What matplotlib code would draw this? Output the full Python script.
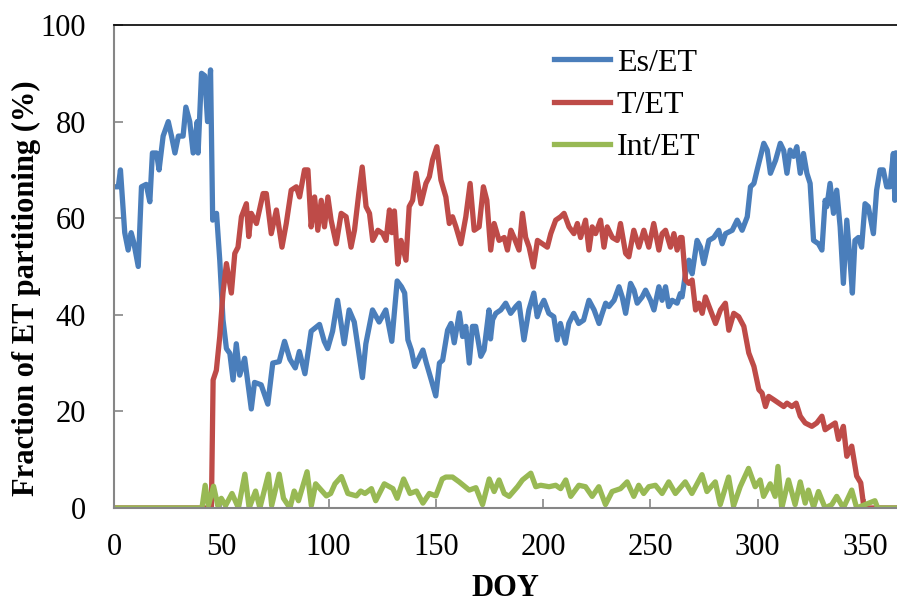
import matplotlib
matplotlib.use('Agg')
import matplotlib.pyplot as plt

plt.rcParams['font.family'] = ['Liberation Serif', 'DejaVu Serif']

# Es/ET (%), (DOY, value)
es_doy = [0, 2, 3, 5, 6.6, 8, 9.2, 11.3, 12.8, 15, 16.7, 17.9, 19.8, 21, 22.9, 25.3, 26.8, 28.4, 30, 32.2,
          33.5, 35.3, 36.9, 38.8, 39.2, 40.8, 42.3, 43.6, 45, 46, 47.8, 49.3, 50.8, 52.4, 54, 55.5, 57, 58.6,
          60.9, 64, 65.5, 68.6, 71.7, 74, 77, 79.5, 82, 84.5, 86.4, 89, 91.9, 95.8, 98, 99.6, 101.9, 104.2,
          107.3, 109.6, 112, 115.8, 117.4, 120.5, 123.6, 126.7, 129.5, 132, 134, 135.5, 137, 138.6, 140.2,
          141.7, 144, 145.6, 147.9, 150, 151.7, 153.2, 155.5, 157.1, 158.6, 161, 162.5, 164, 165.6, 167.1,
          168.6, 171, 172.5, 174.8, 175.5, 176.5, 178, 180.3, 182.6, 184.9, 187.3, 188.8, 191.1, 193.4, 195.7,
          197.3, 198.9, 200.4, 202.7, 205, 206.6, 208.1, 210.4, 212, 214.3, 216.6, 218.9, 221.4, 223.8, 226.1,
          227.6, 229.2, 230.7, 233.1, 235.4, 236.9, 238.5, 240.8, 242.4, 243.9, 246.2, 247.8, 250.1, 251.7,
          254, 255.5, 257.1, 258.6, 260.2, 262.5, 264, 264.8, 266.4, 268, 269.5, 271.8, 273.4, 274.9, 277.3,
          279.6, 281.9, 283.5, 285.1, 288.2, 290.5, 292.8, 295.2, 296.7, 298.3, 299.8, 301.4, 302.9, 304.5,
          306, 308.4, 310.6, 312.2, 313.7, 315.2, 316.8, 318.3, 319.9, 321.4, 323, 324.5, 326.1, 328.4, 330,
          331.5, 332.3, 333.8, 335.4, 336.9, 338.5, 340, 341.6, 343.1, 344.2, 345.4, 347, 348.5, 350.1, 351.6,
          354, 355.5, 357.1, 358.6, 360.2, 361.7, 363.3, 364, 365]
es_et = [66.5, 66.5, 70, 57, 53.4, 57, 55, 50, 66.5, 67, 63.4, 73.5, 73.5, 70, 77, 80, 77, 73.5, 77, 77,
         83, 80, 73.5, 80, 73.5, 90, 89.5, 80, 90.7, 59.6, 61, 51.3, 39, 33, 32, 26.5, 34, 27.5,
         31, 20.5, 26, 25.5, 21.5, 30, 30.3, 34.5, 30.8, 29, 32.4, 27.8, 36.6, 38, 34.5, 33, 36.6, 43,
         34, 41, 38.5, 27, 34, 41, 38.5, 41, 34.5, 47, 45.8, 44.5, 34.8, 32.7, 29.3,
         30.6, 32.7, 30, 26.5, 23.2, 30, 30.6, 36.8, 38.2, 34.2, 40.4, 35.5, 37.6, 30, 37.6,
         37.6, 31.4, 32.7, 41, 35, 39, 40.3, 41, 42.4, 40.3, 41.7, 42.4, 34.8, 41, 44.5,
         39.6, 41.7, 43, 40.3, 39.6, 34.8, 38.2, 34.1, 38.2, 40.3, 38.2, 38.9, 43, 41, 38.2,
         40.3, 42.4, 41.7, 43, 45.8, 43.7, 40.3, 46.5, 45.1, 42.4, 43.7, 45.1, 43, 41,
         45.8, 43, 45.8, 41.7, 43, 42.4, 44.4, 43.7, 48.5, 51.3, 48.5, 55.4, 54, 50.6, 55.4,
         56, 57.5, 54.7, 56.8, 57.5, 59.6, 57.5, 60.3, 66.5, 67.2, 70, 72.8, 75.5, 74.1,
         69.3, 72, 75.5, 74, 69.3, 74.1, 72.8, 74.8, 69.3, 73.4, 69.3, 67.2, 55.4, 54.7, 53.4,
         63.7, 62.4, 67.2, 61, 65.8, 58.2, 46.5, 59.6, 51.3, 44.5, 55.4, 56, 54, 63, 62.4,
         56.8, 65.8, 70, 70, 66.5, 66.5, 73.4, 63.7, 73.5]

# T/ET (%)
t_doy = [0, 45.4, 46.2, 47.7, 49.3, 50.8, 52.4, 54.7, 56.3, 57.8, 59.4, 61.7, 62.8, 64, 66.4, 69.5, 71,
         73.3, 75.7, 78.3, 80.3, 82.6, 85, 86.5, 88.8, 90.4, 91.9, 93.5, 95, 96.6, 98.1, 99.7, 101.2,
         103.6, 105.9, 108.2, 110.5, 112.1, 114.1, 115.7, 117.5, 119.1, 120.6, 123, 125.3, 126.8, 128.4,
         129.5, 130.7, 132.3, 133.8, 136.1, 137.6, 139.2, 140.8, 143.1, 145.4, 147, 148.5, 150.5, 152.4,
         154.7, 156.3, 157.8, 159.4, 161.7, 164, 166, 167.9, 170.2, 172.2, 173.8, 175.6, 177.2, 179.5,
         181.9, 183.4, 185, 186.5, 188.8, 190.4, 191.9, 193.5, 195.5, 197.4, 199.7, 202, 203.6, 205.9,
         208.2, 209.8, 212.1, 214.4, 216, 217.5, 219.8, 221.4, 222.9, 224.5, 226.8, 228.4, 229.9, 232.3,
         234.6, 236.1, 238.5, 240, 242.3, 244.7, 247, 249.3, 251.6, 254, 255.5, 257.1, 259.4, 261, 262.5,
         264, 264.8, 266.4, 268, 269.5, 271.1, 272.6, 274.2, 275.7, 278, 280.4, 282.7, 285, 286.6, 288.9,
         291.2, 293.6, 295.9, 298.3, 300.6, 302.1, 303.7, 305.2, 307.6, 309.9, 312.2, 313.7, 316, 318,
         319.9, 322.2, 325.3, 327.6, 330, 331.5, 333.8, 336.2, 337.7, 340, 341.6, 343.9, 346.2, 348.1,
         349.3, 350, 365]
t_et = [0, 0, 26.5, 28.5, 35.5, 44.5, 50.6, 44.5, 52.7, 54, 60.3, 63, 56.2, 61, 58.9, 65.1, 65.1,
        56.8, 61.7, 54, 58.9, 65.8, 66.5, 64.4, 70, 70, 58.2, 64.4, 57.5, 63.7, 58.2, 64.4, 59.6,
        54.7, 61, 60.3, 54, 57.5, 65.1, 70.6, 62.4, 61, 55.4, 57.5, 56.8, 55.4, 61.7,
        57, 61.5, 50.5, 55.4, 51.3, 62.4, 63.7, 69.3, 63, 67.2, 68.6, 72.1, 74.8, 67.9,
        64.4, 58.9, 60.3, 58.2, 54.7, 60.3, 67.2, 57.5, 58.2, 66.5, 63.7, 53.4, 58.9, 55.4,
        56, 53.4, 57.5, 56, 53.4, 61, 56, 54, 49.9, 55.4, 54.7, 54, 56.8, 59.6,
        60.3, 61, 58.2, 56.8, 58.9, 56, 59.6, 53.4, 58.2, 56.8, 59.6, 54, 58.2, 56,
        55.4, 58.9, 52.7, 52, 57.5, 54, 57.5, 54, 58.9, 53.4, 56.8, 57.5, 54, 56.8, 53.4,
        56, 56, 47.2, 46.5, 47.2, 41, 42.4, 40.3, 43.7, 41, 38.2, 41, 42.4, 36.8, 40.3,
        39.6, 37.6, 32.1, 29.3, 24.5, 23.8, 21, 23.1, 22.4, 21.7, 21, 21.7, 21, 21.7,
        19, 17.6, 16.9, 17.6, 19, 16.2, 16.9, 17.6, 14.2, 16.9, 10.7, 12.8, 6.6, 5.2,
        1, 0, 0]

# Int/ET (%)
int_doy = [0, 41, 42.5, 44, 46.4, 48.5, 50, 52, 55, 58, 61, 63, 66, 68, 72, 73.5, 77, 79, 82, 84, 86, 90,
           92, 94, 96, 99, 101, 103, 106, 109, 113, 115, 117, 120, 122, 126, 130, 132, 135, 138, 141, 144,
           147, 150, 153, 154.7, 157.8, 160.9, 165.6, 168.7, 171.8, 174.9, 177.2, 179.5, 181.9, 184.2, 188.1,
           190.4, 194.3, 196.6, 198.9, 202.8, 205.9, 208.2, 210.6, 212.9, 216.7, 219.8, 222.9, 226, 229.1,
           232.2, 236.1, 239.2, 242.3, 244.6, 246.9, 249.3, 252.4, 255.5, 258.6, 261.7, 266.3, 269.4, 274.1,
           276.4, 280.3, 282.6, 286.5, 288.8, 291.9, 295.8, 298.9, 301.2, 302.8, 305.9, 308.2, 309.5, 311.3,
           314.4, 317.5, 319.9, 322.2, 323.7, 326.1, 328.4, 331.5, 334.6, 336.9, 340, 343.9, 346.2, 354.7,
           356, 365]
int_et = [0, 0, 4.7, 0.5, 4.5, 0.3, 2, 0.5, 3, 0, 7, 0, 3.5, 0, 7, 0.5, 7, 2, 0, 3.5, 1.5, 7.5,
          0.5, 5, 4, 2.5, 3, 5, 6.5, 3, 2.5, 3.5, 3, 4, 1.5, 5, 4, 2, 6, 3, 3.5, 1,
          3, 2.5, 6, 6.4, 6.4, 5.4, 3.7, 4.2, 0.7, 6, 3.4, 5.8, 3, 2.4, 4.4,
          5.8, 7.2, 4.4, 4.7, 4.4, 4.7, 4, 5.8, 2.4, 4.7, 4.4, 2.4, 4.4, 0.7,
          3.4, 4, 5.4, 2.4, 4.7, 3, 4.4, 4.7, 3, 5.4, 3, 5.4, 3, 6.9,
          3.4, 5.4, 0.7, 6.4, 0.4, 4.4, 8.2, 4.4, 5.8, 2.4, 5, 2.4, 8.6, 0,
          5.8, 0.7, 5.4, 1, 3.7, 0.2, 3.4, 0, 0.7, 2.4, 0, 3.7, 0, 1.5,
          0, 0]

xticks = [0, 50, 100, 150, 200, 250, 300, 350]
yticks = [0, 20, 40, 60, 80, 100]

fig = plt.figure(figsize=(8.97, 6.04), dpi=100)
ax = fig.add_axes([0.1271, 0.159, 0.8729, 0.7996])

ax.plot(es_doy, es_et, color='#4A7EBB', lw=3.8, label='Es/ET', solid_joinstyle='round')
ax.plot(t_doy, t_et, color='#BE4B48', lw=3.8, label='T/ET', solid_joinstyle='round')
ax.plot(int_doy, int_et, color='#98B954', lw=3.8, label='Int/ET', solid_joinstyle='round')

ax.set_xlim(0, 365)
ax.set_ylim(0, 100)
ax.set_xticks(xticks)
ax.set_yticks(yticks)

for s in ['left', 'bottom']:
    ax.spines[s].set_color('#868686')
    ax.spines[s].set_linewidth(1.5)
ax.spines['top'].set_color('black')
ax.spines['top'].set_linewidth(1.2)
ax.spines['right'].set_visible(False)

ax.tick_params(axis='both', direction='in', length=6.5, width=1.2, color='#868686',
               labelsize=22)
ax.tick_params(axis='y', pad=20)
ax.tick_params(axis='x', pad=18)

ax.set_xlabel('DOY', fontsize=22, fontweight='bold', labelpad=9)
fig.text(0.029, 0.523, 'Fraction of ET partitioning (%)', rotation=90, ha='center', va='center',
         fontsize=22, fontweight='bold')

ax.legend(loc='upper left', bbox_to_anchor=(0.542, 0.985), frameon=False, fontsize=23,
          handlelength=1.75, handletextpad=0.2, labelspacing=0.4, borderpad=0)

fig.savefig('out.png', dpi=100)
